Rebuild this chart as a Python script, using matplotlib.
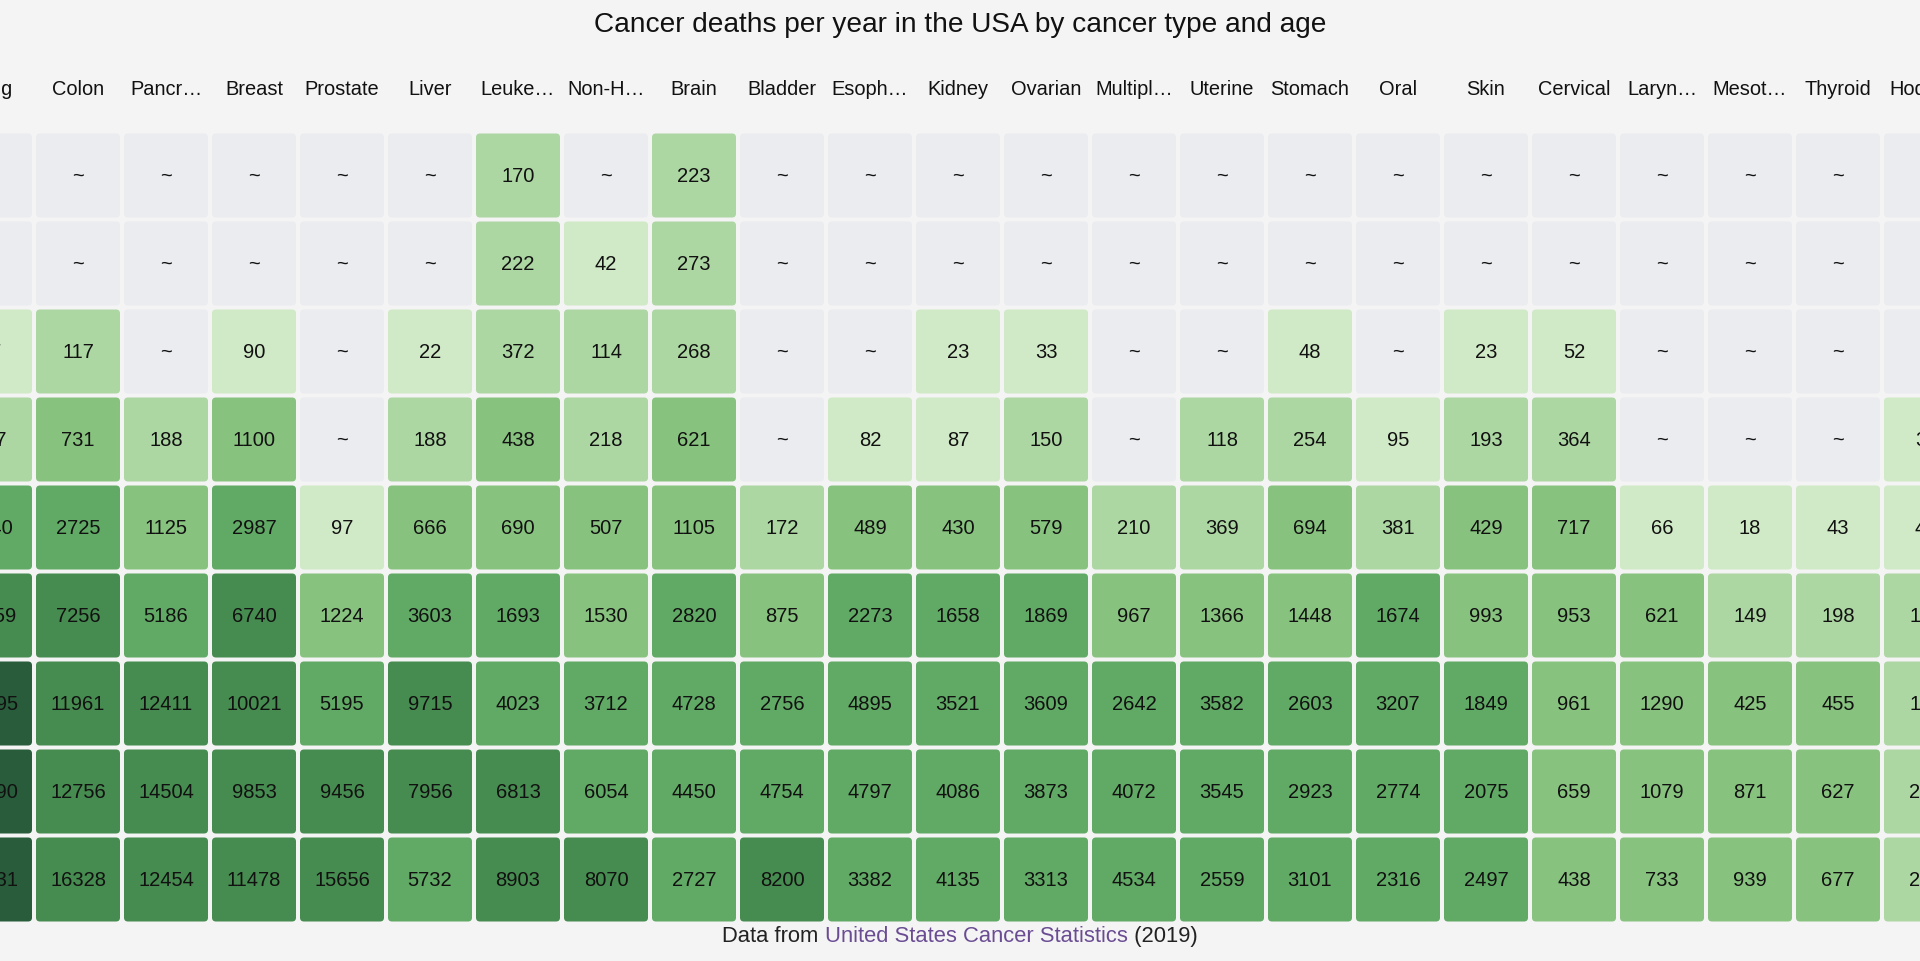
import numpy as np
import matplotlib.pyplot as plt
from matplotlib.patches import FancyBboxPatch
from matplotlib.offsetbox import TextArea, HPacker, AnnotationBbox

plt.rcParams['font.family'] = ['Liberation Sans', 'DejaVu Sans']

# column labels as shown (long names are cut with an ellipsis)
labels = ['Lung', 'Colon', 'Pancr…', 'Breast', 'Prostate', 'Liver', 'Leuke…',
          'Non-H…', 'Brain', 'Bladder', 'Esoph…', 'Kidney', 'Ovarian',
          'Multipl…', 'Uterine', 'Stomach', 'Oral', 'Skin', 'Cervical',
          'Laryn…', 'Mesot…', 'Thyroid', 'Hodgkin']

# deaths per age group (youngest at the top), None = suppressed (~)
lung = [None, None, 57, 287, 2940, 11759, 33495, 45090, 38731]
colon = [None, None, 117, 731, 2725, 7256, 11961, 12756, 16328]
pancreas = [None, None, None, 188, 1125, 5186, 12411, 14504, 12454]
breast = [None, None, 90, 1100, 2987, 6740, 10021, 9853, 11478]
prostate = [None, None, None, None, 97, 1224, 5195, 9456, 15656]
liver = [None, None, 22, 188, 666, 3603, 9715, 7956, 5732]
leukemia = [170, 222, 372, 438, 690, 1693, 4023, 6813, 8903]
non_hodgkin = [None, 42, 114, 218, 507, 1530, 3712, 6054, 8070]
brain = [223, 273, 268, 621, 1105, 2820, 4728, 4450, 2727]
bladder = [None, None, None, None, 172, 875, 2756, 4754, 8200]
esophagus = [None, None, None, 82, 489, 2273, 4895, 4797, 3382]
kidney = [None, None, 23, 87, 430, 1658, 3521, 4086, 4135]
ovarian = [None, None, 33, 150, 579, 1869, 3609, 3873, 3313]
myeloma = [None, None, None, None, 210, 967, 2642, 4072, 4534]
uterine = [None, None, None, 118, 369, 1366, 3582, 3545, 2559]
stomach = [None, None, 48, 254, 694, 1448, 2603, 2923, 3101]
oral = [None, None, None, 95, 381, 1674, 3207, 2774, 2316]
skin = [None, None, 23, 193, 429, 993, 1849, 2075, 2497]
cervical = [None, None, 52, 364, 717, 953, 961, 659, 438]
larynx = [None, None, None, None, 66, 621, 1290, 1079, 733]
mesothelioma = [None, None, None, None, 18, 149, 425, 871, 939]
thyroid = [None, None, None, None, 43, 198, 455, 627, 677]
hodgkin = [None, None, None, 36, 47, 145, 178, 236, 262]

columns = [lung, colon, pancreas, breast, prostate, liver, leukemia,
           non_hodgkin, brain, bladder, esophagus, kidney, ovarian, myeloma,
           uterine, stomach, oral, skin, cervical, larynx, mesothelioma,
           thyroid, hodgkin]

# color thresholds (x4 steps)
bins = [100, 400, 1600, 6400, 25600]
greens = ['#d0e9c6', '#acd6a2', '#88c27f', '#61aa65', '#468b4f', '#285c3a']
empty_color = '#ebecf0'
bg = '#f4f4f4'

# layout in pixels: grid is wider than the view, so it is cropped on both sides
W, H = 1920, 962
PITCH = 88
CELL = 84
X0 = -10    # centre of first column
Y0 = 176.5  # centre of first row

fig = plt.figure(figsize=(W / 100, H / 100), dpi=100)
fig.patch.set_facecolor(bg)
ax = fig.add_axes([0, 0, 1, 1])
ax.set_facecolor(bg)
ax.set_xlim(-X0 / PITCH, (W - X0) / PITCH)
ax.set_ylim((H - Y0) / PITCH, -Y0 / PITCH)
ax.axis('off')

size = CELL / PITCH
for c, (name, vals) in enumerate(zip(labels, columns)):
    ax.text(c, -0.985, name, ha='center', va='center', fontsize=14.4,
            color='#111111')
    for r, v in enumerate(vals):
        if v is None:
            color, txt = empty_color, '~'
        else:
            color, txt = greens[np.digitize(v, bins)], str(v)
        ax.add_patch(FancyBboxPatch((c - size / 2, r - size / 2), size, size,
                                    boxstyle='round,pad=0,rounding_size=0.045',
                                    fc=color, ec='none'))
        ax.text(c, r, txt, ha='center', va='center', fontsize=14.5,
                color='#111111')

fig.text(0.5, 1 - 25 / H, 'Cancer deaths per year in the USA by cancer type and age',
         ha='center', va='center', fontsize=20.2, color='#111111')

# footer with link-colored source
parts = [TextArea('Data from ', textprops=dict(fontsize=15.8, color='#222222')),
         TextArea('United States Cancer Statistics',
                  textprops=dict(fontsize=15.8, color='#6a4c93')),
         TextArea(' (2019)', textprops=dict(fontsize=15.8, color='#222222'))]
footer = HPacker(children=parts, pad=0, sep=0, align='baseline')
ab = AnnotationBbox(footer, (0.5, 1 - 937 / H), xycoords='figure fraction',
                    frameon=False, box_alignment=(0.5, 0.5))
fig.add_artist(ab)

fig.savefig('out.png', dpi=100, facecolor=bg)
